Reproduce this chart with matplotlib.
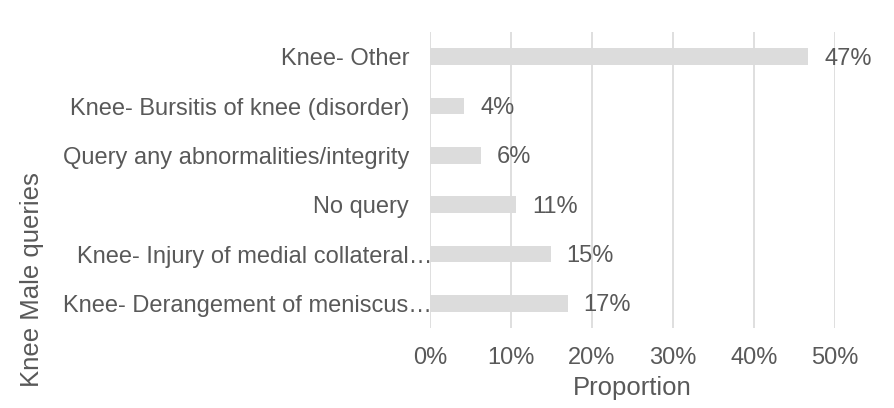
import matplotlib
matplotlib.use("Agg")
import matplotlib.pyplot as plt
import matplotlib.transforms as mtransforms
from matplotlib.ticker import FuncFormatter

categories = [
    "Knee- Derangement of meniscus…",
    "Knee- Injury of medial collateral…",
    "No query",
    "Query any abnormalities/integrity",
    "Knee- Bursitis of knee (disorder)",
    "Knee- Other",
]
values = [0.170, 0.149, 0.106, 0.063, 0.042, 0.467]
xticks = [0.0, 0.1, 0.2, 0.3, 0.4, 0.5]

TEXT = "#595959"
GRID = "#d9d9d9"
BAR = "#dcdcdc"

plt.rcParams["font.family"] = ["Liberation Sans", "DejaVu Sans"]

W, H = 894, 408
fig = plt.figure(figsize=(W / 100, H / 100), dpi=100)
left, right, top, bottom = 430, 835, 32, 328
ax = fig.add_axes([left / W, 1 - bottom / H, (right - left) / W, (bottom - top) / H])

ypos = list(range(len(categories)))
ax.barh(ypos, values, height=0.34, color=BAR, zorder=2)
for y, v in zip(ypos, values):
    ax.annotate(f"{round(v * 100):.0f}%", xy=(v, y), xytext=(16, -2),
                textcoords="offset pixels", ha="left", va="center",
                fontsize=17, color=TEXT, zorder=3)

ax.set_xlim(0, 0.5)
ax.set_ylim(-0.5, len(categories) - 0.5)
ax.set_xticks(xticks)
ax.xaxis.set_major_formatter(FuncFormatter(lambda x, p: f"{x * 100:.0f}%"))
ax.set_yticks(ypos)
ax.set_yticklabels(categories)
ax.grid(axis="x", color=GRID, linewidth=1.2, zorder=0)
ax.set_axisbelow(True)
for s in ax.spines.values():
    s.set_visible(False)
ax.tick_params(axis="both", length=0, labelsize=17, labelcolor=TEXT)
ax.tick_params(axis="y", pad=15)
ax.tick_params(axis="x", pad=14)

offset = mtransforms.ScaledTranslation(23 / 100, 0, fig.dpi_scale_trans)
for lbl in ax.get_yticklabels():
    if lbl.get_text().endswith("…"):
        lbl.set_transform(lbl.get_transform() + offset)

ax.set_xlabel("Proportion", fontsize=18.5, color=TEXT, labelpad=5)
fig.text(32 / W, 1 - 280 / H, "Knee Male queries", rotation=90, ha="center",
         va="center", fontsize=18.5, color=TEXT)

fig.savefig("out.png", dpi=100)
